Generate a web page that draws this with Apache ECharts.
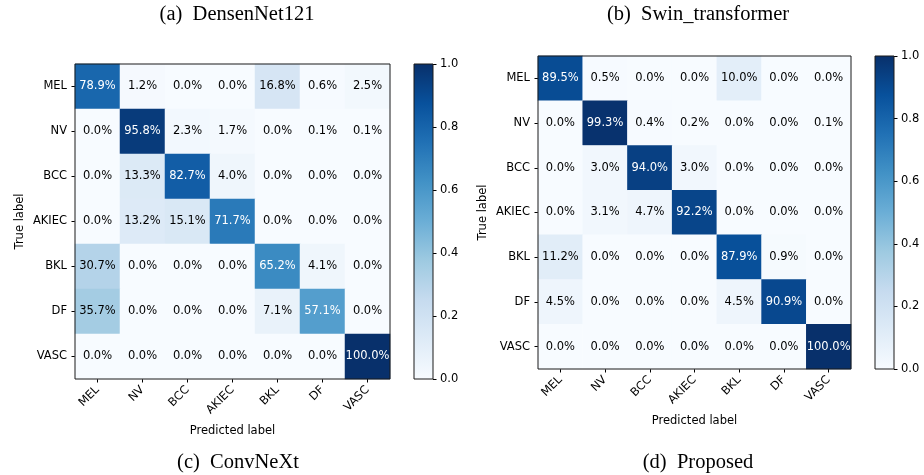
<!DOCTYPE html>
<html>
<head>
<meta charset="utf-8">
<script src="https://cdn.jsdelivr.net/npm/echarts@6/dist/echarts.min.js"></script>
<style>
html,body{margin:0;padding:0;background:#fff;}
#chart{width:924px;height:475px;}
</style>
</head>
<body>
<div id="chart"></div>
<script>
// ---- data ----
const categories = ['MEL', 'NV', 'BCC', 'AKIEC', 'BKL', 'DF', 'VASC'];
// rows = true label, columns = predicted label (percent)
const matrixLeft = [
  [78.9, 1.2, 0.0, 0.0, 16.8, 0.6, 2.5],
  [0.0, 95.8, 2.3, 1.7, 0.0, 0.1, 0.1],
  [0.0, 13.3, 82.7, 4.0, 0.0, 0.0, 0.0],
  [0.0, 13.2, 15.1, 71.7, 0.0, 0.0, 0.0],
  [30.7, 0.0, 0.0, 0.0, 65.2, 4.1, 0.0],
  [35.7, 0.0, 0.0, 0.0, 7.1, 57.1, 0.0],
  [0.0, 0.0, 0.0, 0.0, 0.0, 0.0, 100.0]
];
const matrixRight = [
  [89.5, 0.5, 0.0, 0.0, 10.0, 0.0, 0.0],
  [0.0, 99.3, 0.4, 0.2, 0.0, 0.0, 0.1],
  [0.0, 3.0, 94.0, 3.0, 0.0, 0.0, 0.0],
  [0.0, 3.1, 4.7, 92.2, 0.0, 0.0, 0.0],
  [11.2, 0.0, 0.0, 0.0, 87.9, 0.9, 0.0],
  [4.5, 0.0, 0.0, 0.0, 4.5, 90.9, 0.0],
  [0.0, 0.0, 0.0, 0.0, 0.0, 0.0, 100.0]
];
const colorbarRange = [0, 1];
const colorbarStep = 0.2;
const captionsTop = ['(a)  DensenNet121', '(b)  Swin_transformer'];
const captionsBottom = ['(c)  ConvNeXt', '(d)  Proposed'];

// matplotlib "Blues"
const blues = ['#f7fbff', '#deebf7', '#c6dbef', '#9ecae1', '#6baed6', '#4292c6', '#2171b5', '#08519c', '#08306b'];

function cells(m) {
  const out = [];
  m.forEach((row, i) => row.forEach((v, j) => {
    out.push({ value: [j, i, v], label: { color: v > 50 ? '#ffffff' : '#000000' } });
  }));
  return out;
}

const FONT = 'DejaVu Sans';
const FS = 11.5;
const chart = echarts.init(document.getElementById('chart'), null, { renderer: 'canvas' });

const grids = [
  { left: 75, top: 64, width: 315, height: 315 },
  { left: 538, top: 56, width: 313, height: 313 },
  { left: 414, top: 64, width: 19, height: 315 },
  { left: 875, top: 56, width: 19, height: 313 }
].map(g => Object.assign({ show: true, borderColor: '#1a1a1a', borderWidth: 1, backgroundColor: 'transparent', z: 10, containLabel: false }, g));

function matXAxis(gi) {
  return {
    type: 'category', gridIndex: gi, data: categories, position: 'bottom',
    name: 'Predicted label', nameLocation: 'middle', nameGap: 46,
    nameTextStyle: { fontFamily: FONT, fontSize: FS, color: '#000' },
    axisLine: { show: false },
    axisTick: { show: true, alignWithLabel: true, length: 3.5, lineStyle: { color: '#000', width: 1 } },
    axisLabel: { rotate: 45, margin: 9, fontFamily: FONT, fontSize: FS, color: '#000', interval: 0 },
    splitLine: { show: false }
  };
}
function matYAxis(gi) {
  return {
    type: 'category', gridIndex: gi, data: categories, inverse: true,
    name: 'True label', nameLocation: 'middle', nameGap: 49, nameRotate: 90,
    nameTextStyle: { fontFamily: FONT, fontSize: FS, color: '#000' },
    axisLine: { show: false },
    axisTick: { show: true, alignWithLabel: true, length: 3.5, lineStyle: { color: '#000', width: 1 } },
    axisLabel: { margin: 8, fontFamily: FONT, fontSize: FS, color: '#000', interval: 0 },
    splitLine: { show: false }
  };
}
function cbXAxis(gi) {
  return { type: 'category', gridIndex: gi, data: [''], show: false };
}
function cbYAxis(gi) {
  return {
    type: 'value', gridIndex: gi, position: 'right', min: colorbarRange[0], max: colorbarRange[1], interval: colorbarStep,
    axisLine: { show: false },
    axisTick: { show: true, length: 3.5, lineStyle: { color: '#000', width: 1 } },
    axisLabel: { margin: 7, fontFamily: FONT, fontSize: FS, color: '#000', formatter: v => v.toFixed(1) },
    splitLine: { show: false }
  };
}

const gradient = new echarts.graphic.LinearGradient(0, 0, 0, 1,
  blues.slice().reverse().map((c, i, a) => ({ offset: i / (a.length - 1), color: c })));

function heat(xi, m) {
  return {
    type: 'heatmap', xAxisIndex: xi, yAxisIndex: xi, data: cells(m),
    itemStyle: { borderWidth: 0 },
    label: { show: true, fontFamily: FONT, fontSize: FS, formatter: p => p.value[2].toFixed(1) + '%' },
    emphasis: { disabled: true }
  };
}
function cbar(xi) {
  return {
    type: 'bar', xAxisIndex: xi, yAxisIndex: xi, data: [colorbarRange[1]], barWidth: '100%',
    itemStyle: { color: gradient }, silent: true
  };
}

function caption(text, x, y) {
  return {
    type: 'text', x: x, y: y,
    style: { text: text, fontFamily: 'Liberation Serif', fontSize: 20.5, fill: '#000', align: 'center', verticalAlign: 'middle' }
  };
}

chart.setOption({
  animation: false,
  grid: grids,
  xAxis: [matXAxis(0), matXAxis(1), cbXAxis(2), cbXAxis(3)],
  yAxis: [matYAxis(0), matYAxis(1), cbYAxis(2), cbYAxis(3)],
  visualMap: [
    { show: false, seriesIndex: 0, min: 0, max: 100, inRange: { color: blues } },
    { show: false, seriesIndex: 1, min: 0, max: 100, inRange: { color: blues } }
  ],
  series: [heat(0, matrixLeft), heat(1, matrixRight), cbar(2), cbar(3)],
  graphic: [
    caption(captionsTop[0], 237, 15),
    caption(captionsTop[1], 698, 15),
    caption(captionsBottom[0], 238, 463),
    caption(captionsBottom[1], 698, 463)
  ]
});
</script>
</body>
</html>
